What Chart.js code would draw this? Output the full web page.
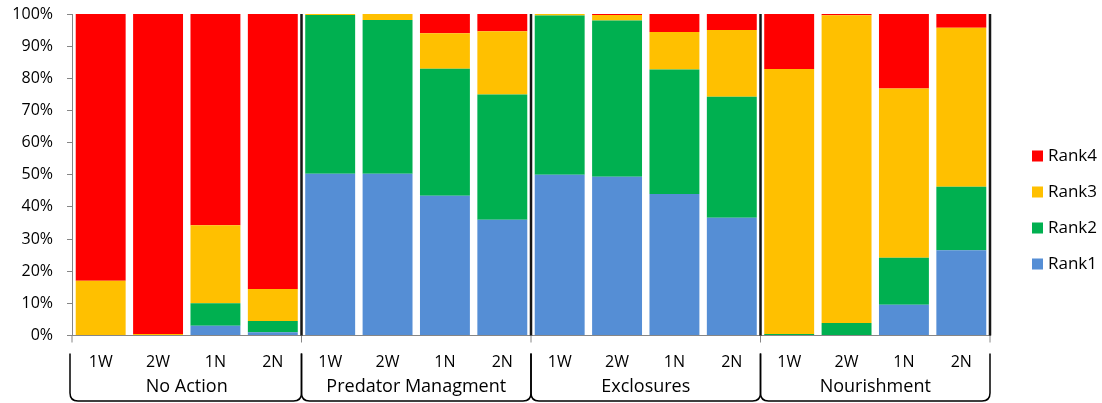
<!DOCTYPE html>
<html>
<head>
<meta charset="utf-8">
<script src="https://cdn.jsdelivr.net/npm/chart.js@4/dist/chart.umd.min.js"></script>
<style>
  html, body { margin: 0; padding: 0; background: #fff; }
  #wrap { width: 1102px; height: 403px; position: relative; }
</style>
</head>
<body>
<div id="wrap"><canvas id="c"></canvas></div>
<script>
// Treatment groups and the four sub-categories shown under each
const groups = ['No Action', 'Predator Managment', 'Exclosures', 'Nourishment'];
const categories = ['1W', '2W', '1N', '2N', '1W', '2W', '1N', '2N',
                    '1W', '2W', '1N', '2N', '1W', '2W', '1N', '2N'];

// Share of each rank (%) per category
const rank1 = [0, 0, 3, 1,      50.3, 50.3, 43.5, 36,   50, 49.4, 44, 36.6,    0, 0, 9.6, 26.5];
const rank2 = [0, 0, 7, 3.5,    49.4, 47.8, 39.5, 39,   49.5, 48.6, 38.7, 37.7, 0.5, 3.9, 14.6, 19.8];
const rank3 = [17, 0.5, 24.3, 10, 0.3, 1.9, 11, 19.6,   0.5, 1.7, 11.7, 20.7,  82.4, 95.7, 52.6, 49.4];
const rank4 = [83, 99.5, 65.7, 85.5, 0, 0, 6, 5.4,      0, 0.3, 5.6, 5,        17.1, 0.4, 23.2, 4.3];

const yTicks = [0, 10, 20, 30, 40, 50, 60, 70, 80, 90, 100];

const FONT = '"Open Sans", "DejaVu Sans", sans-serif';
const AXIS_GRAY = '#868686';

const seriesList = [
  { label: 'Rank1', data: rank1, color: '#558ED5' },
  { label: 'Rank2', data: rank2, color: '#00B050' },
  { label: 'Rank3', data: rank3, color: '#FFC000' },
  { label: 'Rank4', data: rank4, color: '#FF0000' }
];

// Group separators, brace-style group axis and the side legend
const decorations = {
  id: 'decorations',
  afterDraw(chart) {
    const ctx = chart.ctx;
    const xs = chart.scales.x;
    const area = chart.chartArea;
    const perGroup = categories.length / groups.length;
    const catW = (xs.right - xs.left) / categories.length;
    const bounds = [];
    for (let k = 0; k <= groups.length; k++) bounds.push(xs.left + k * perGroup * catW);

    ctx.save();
    // short ticks under the axis at group boundaries
    ctx.strokeStyle = AXIS_GRAY;
    ctx.lineWidth = 1;
    bounds.forEach(b => {
      ctx.beginPath();
      ctx.moveTo(b, area.bottom);
      ctx.lineTo(b, area.bottom + 7);
      ctx.stroke();
    });
    // heavy separators between groups
    ctx.strokeStyle = '#161616';
    ctx.lineWidth = 2.5;
    bounds.slice(1).forEach(b => {
      ctx.beginPath();
      ctx.moveTo(b, area.top);
      ctx.lineTo(b, area.bottom);
      ctx.stroke();
    });

    // braces under each group
    const top = area.bottom + 18, bot = area.bottom + 65.5, r = 8;
    ctx.strokeStyle = '#000';
    ctx.lineWidth = 1.5;
    groups.forEach((g, i) => {
      const L = bounds[i] - (i === 0 ? 2 : 0);
      const R = bounds[i + 1];
      ctx.beginPath();
      ctx.moveTo(L, top);
      ctx.lineTo(L, bot - r);
      ctx.quadraticCurveTo(L, bot, L + r, bot);
      ctx.lineTo(R - r, bot);
      ctx.quadraticCurveTo(R, bot, R, bot - r);
      ctx.lineTo(R, top);
      ctx.stroke();

      ctx.fillStyle = '#000';
      ctx.font = '18px ' + FONT;
      ctx.textAlign = 'center';
      ctx.textBaseline = 'middle';
      ctx.fillText(g, (bounds[i] + bounds[i + 1]) / 2, area.bottom + 51.5);
    });

    // legend, top rank first
    const legendY = [156, 192, 228, 264];
    ctx.font = '17px ' + FONT;
    ctx.textAlign = 'left';
    ctx.textBaseline = 'middle';
    seriesList.slice().reverse().forEach((s, i) => {
      const y = legendY[i];
      ctx.fillStyle = s.color;
      ctx.fillRect(1032, y - 5.5, 11, 11);
      ctx.fillStyle = '#000';
      ctx.fillText(s.label, 1048, y);
    });
    ctx.restore();
  }
};

new Chart(document.getElementById('c'), {
  type: 'bar',
  data: {
    labels: categories,
    datasets: seriesList.map(s => ({
      label: s.label,
      data: s.data,
      backgroundColor: s.color,
      borderWidth: 0,
      barPercentage: 0.87,
      categoryPercentage: 1.0
    }))
  },
  options: {
    responsive: true,
    maintainAspectRatio: false,
    animation: false,
    layout: { padding: { left: 0, right: 112, top: 14, bottom: 0 } },
    plugins: { legend: { display: false }, tooltip: { enabled: false } },
    scales: {
      x: {
        stacked: true,
        grid: { display: false, drawTicks: false },
        border: { display: true, color: AXIS_GRAY, width: 1 },
        ticks: {
          autoSkip: false, maxRotation: 0, minRotation: 0,
          font: { family: FONT, size: 16 }, color: '#000', padding: 17
        },
        afterFit(s) { s.height = 67.5; s.paddingLeft = 0; s.paddingRight = 0; }
      },
      y: {
        stacked: true,
        min: 0, max: 100,
        afterBuildTicks(s) { s.ticks = yTicks.map(v => ({ value: v })); },
        ticks: {
          callback: v => v + '%',
          font: { family: FONT, size: 16 }, color: '#000', padding: 14
        },
        grid: { display: true, drawOnChartArea: false, drawTicks: true, tickLength: 5, color: AXIS_GRAY },
        border: { display: true, color: AXIS_GRAY, width: 1 },
        afterFit(s) { s.width = 72; s.paddingTop = 0; s.paddingBottom = 0; }
      }
    }
  },
  plugins: [decorations]
});
</script>
</body>
</html>
